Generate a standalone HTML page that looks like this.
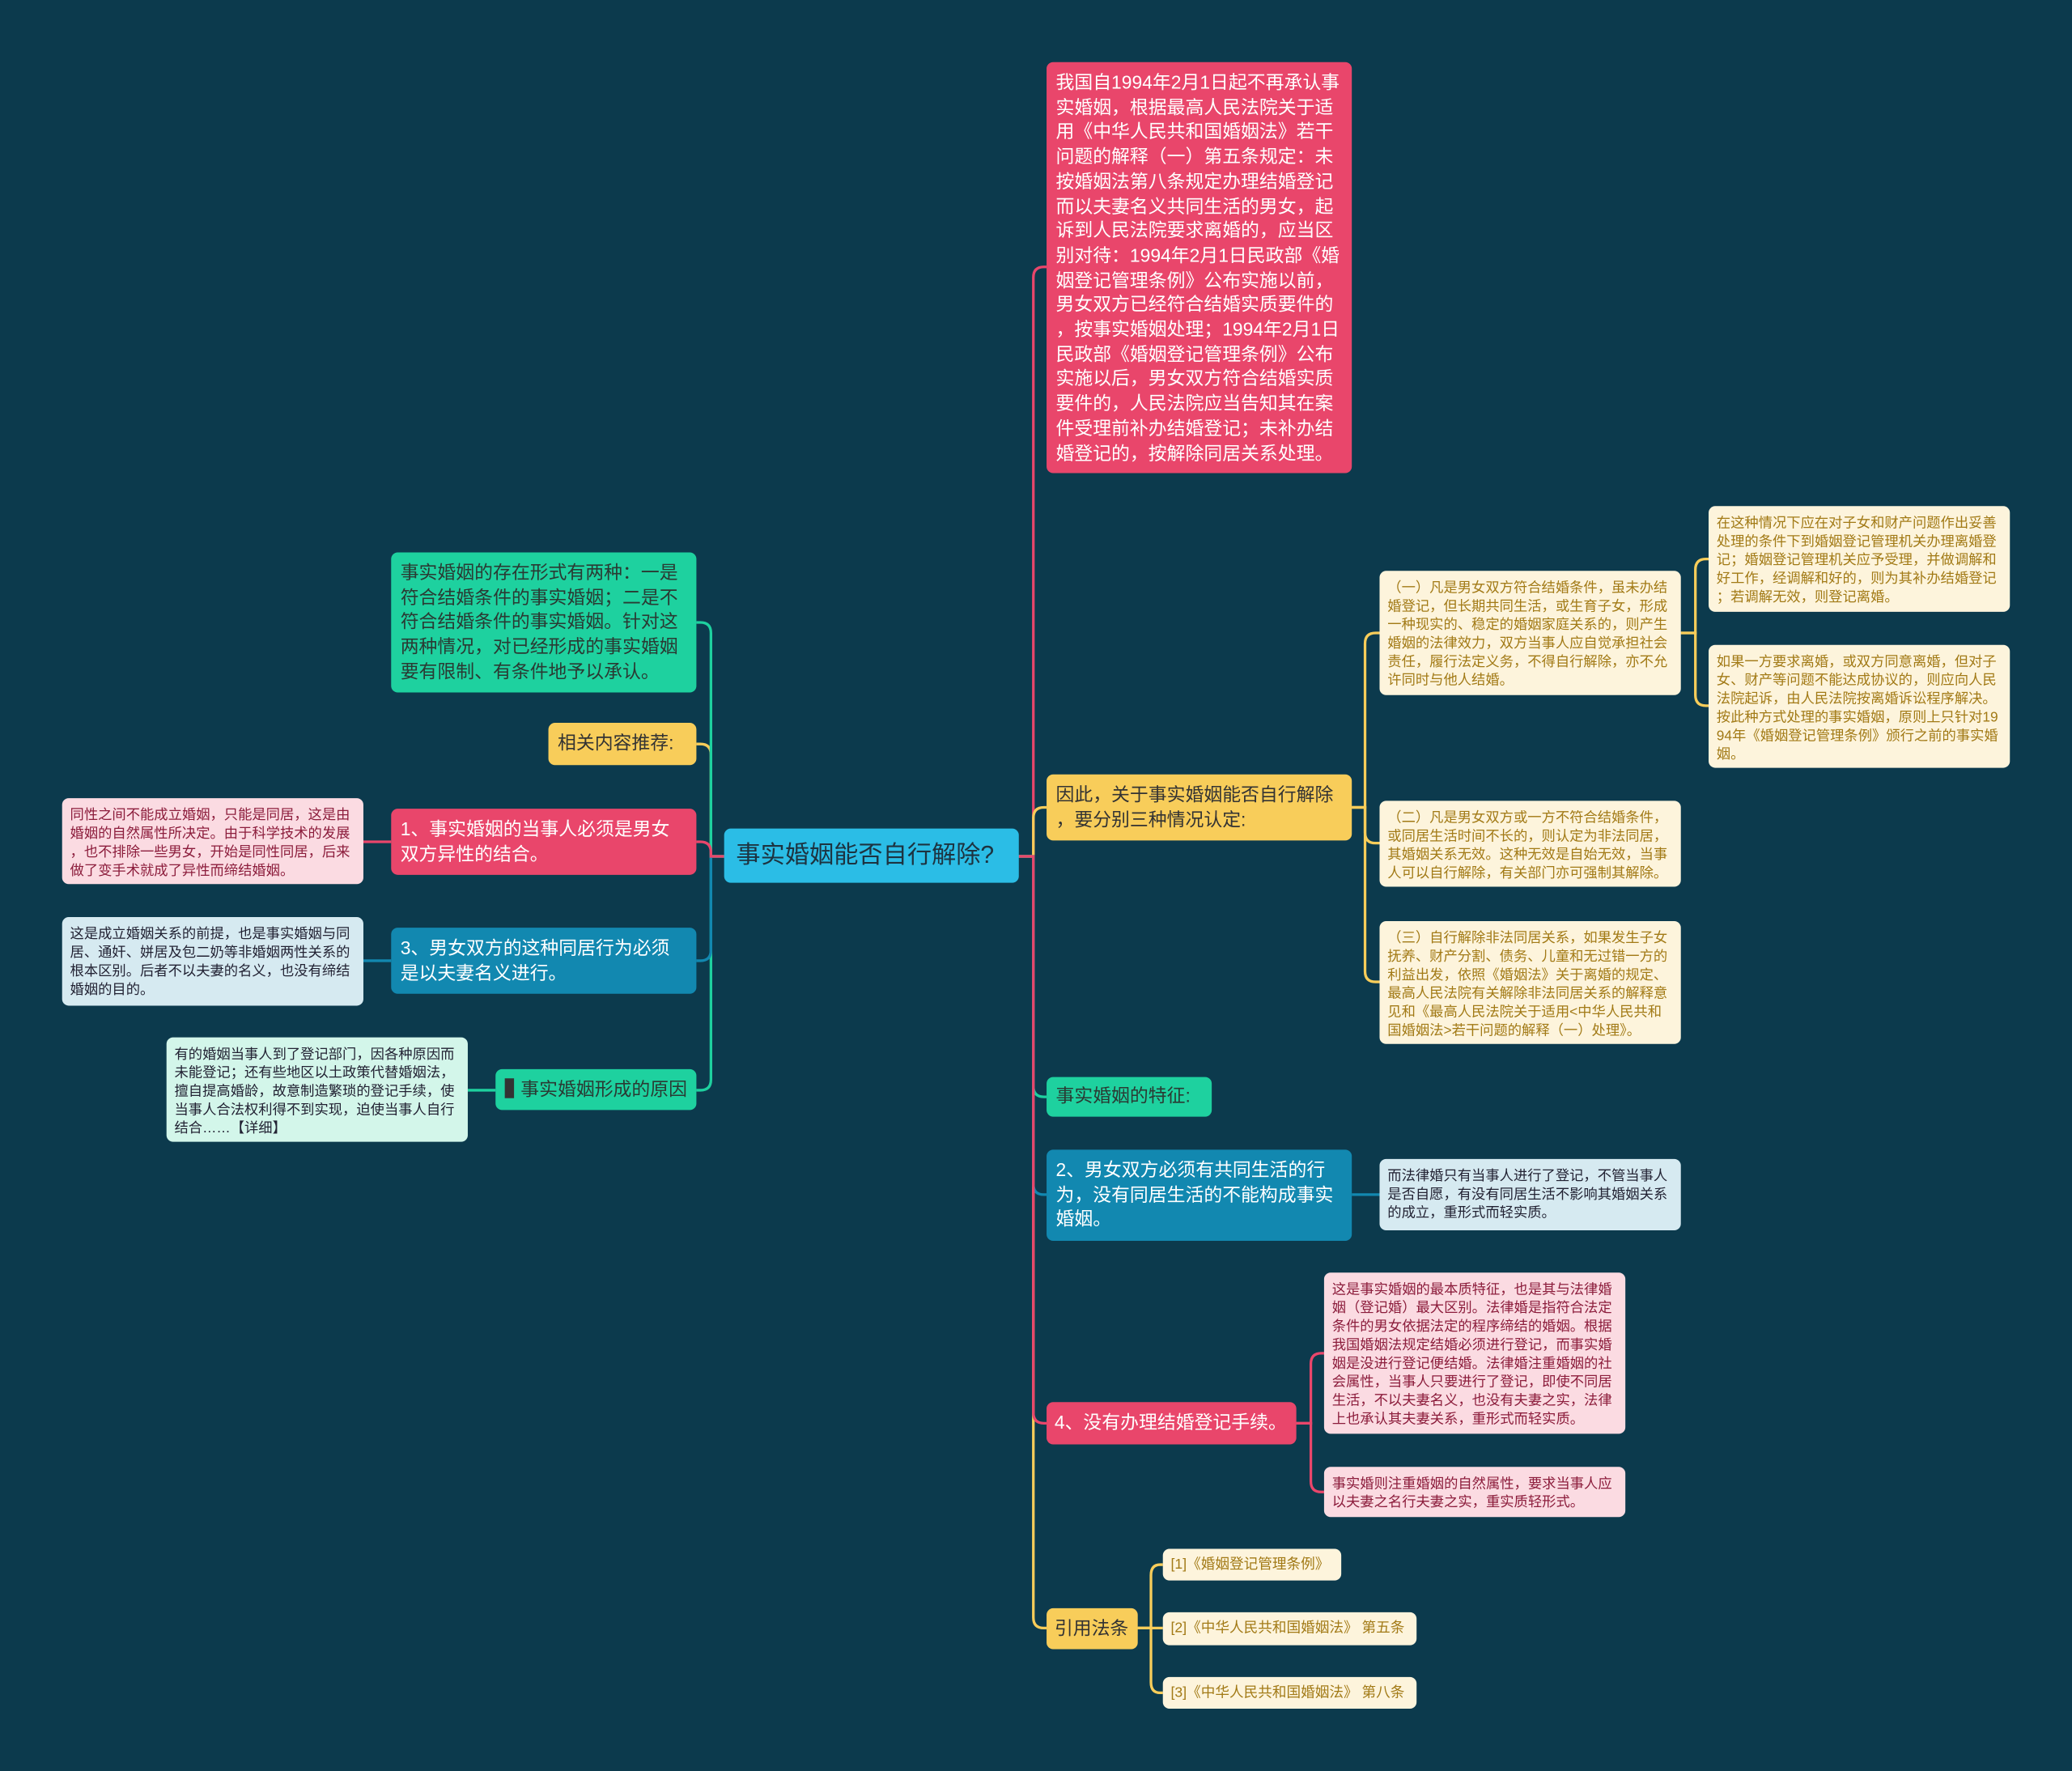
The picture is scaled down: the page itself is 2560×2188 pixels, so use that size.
<!DOCTYPE html>
<html><head><meta charset="utf-8"><style>
html,body{margin:0;padding:0;background:#0c3a4d;width:2560px;height:2187px;overflow:hidden}
#w{position:absolute;left:0;top:0;width:1568px;height:1340px;transform:scale(1.63265);transform-origin:0 0;font-family:"Liberation Sans","Noto Sans CJK SC",sans-serif}
.n{position:absolute;box-sizing:border-box;border-radius:5px;padding:6px 7px;font-size:14px;line-height:18.7px;word-break:break-all;line-break:anywhere}
.s{font-size:10.6px;line-height:14px;padding:6px 6px}
.red{background:#e9466b;color:#fff}
.yel{background:#f8cd5a;color:#333}
.grn{background:#1ed19f;color:#2a3a33}
.blu{background:#1288b0;color:#fff}
.cream{background:#fdf4dc;color:#a27a16}
.pink{background:#fbdbe2;color:#8c1d3c}
.lb{background:#d6eaf1;color:#223}
.mint{background:#d3f6ea;color:#223}
svg{position:absolute;left:0;top:0}
</style></head><body><div id="w">
<svg width="1568" height="1340" fill="none" stroke-width="2">
<g stroke="#e9466b"><path d="M771 648H782V210Q782 202 790 202H792"/></g>
<g stroke="#f8cd5a"><path d="M771 648H782V619Q782 611 790 611H792"/><path d="M771 648H782V1224Q782 1232 790 1232H792"/>
<path d="M1023 611H1033V487Q1033 479 1041 479H1044"/><path d="M1023 611H1033V630Q1033 638 1041 638H1044"/><path d="M1023 611H1033V735Q1033 743 1041 743H1044"/>
<path d="M1272 479H1283V431Q1283 423 1291 423H1293"/><path d="M1272 479H1283V526Q1283 534 1291 534H1293"/>
<path d="M861 1232H871V1192Q871 1184 878 1184H880"/><path d="M861 1232H880"/><path d="M861 1232H871V1273Q871 1281 878 1281H880"/>
<path d="M548 648H538V571Q538 563 530 563H527"/></g>
<g stroke="#1ed19f"><path d="M771 648H782V822Q782 830 790 830H792"/><path d="M548 648H538V479Q538 471 530 471H527"/><path d="M548 648H538V817Q538 825 530 825H527"/><path d="M375 825H354"/></g>
<g stroke="#1288b0"><path d="M771 648H782V896Q782 904 790 904H792"/><path d="M1023 904H1044"/><path d="M548 648H538V719Q538 727 530 727H527"/><path d="M296 727H275"/></g>
<g stroke="#e9466b"><path d="M771 648H782V1069Q782 1077 790 1077H792"/><path d="M981 1077H992V1032Q992 1024 1000 1024H1002"/><path d="M981 1077H992V1121Q992 1129 1000 1129H1002"/><path d="M548 648H538V645Q538 637 530 637H527"/><path d="M296 637H275"/></g>
</svg>
<div class="n" style="left:548px;top:627px;width:223px;height:41px;background:#2bbde6;color:#1d3340;font-size:18.5px;line-height:29px;padding:5px 9px">事实婚姻能否自行解除?</div>

<div class="n red" style="left:792px;top:47px;width:231px;height:311px">我国自1994年2月1日起不再承认事实婚姻，根据最高人民法院关于适用《中华人民共和国婚姻法》若干问题的解释（一）第五条规定：未按婚姻法第八条规定办理结婚登记而以夫妻名义共同生活的男女，起诉到人民法院要求离婚的，应当区别对待：1994年2月1日民政部《婚姻登记管理条例》公布实施以前，男女双方已经符合结婚实质要件的，按事实婚姻处理；1994年2月1日民政部《婚姻登记管理条例》公布实施以后，男女双方符合结婚实质要件的，人民法院应当告知其在案件受理前补办结婚登记；未补办结婚登记的，按解除同居关系处理。</div>
<div class="n yel" style="left:792px;top:586px;width:231px;height:50px">因此，关于事实婚姻能否自行解除，要分别三种情况认定:</div>
<div class="n s cream" style="left:1044px;top:432px;width:228px;height:94px">（一）凡是男女双方符合结婚条件，虽未办结婚登记，但长期共同生活，或生育子女，形成一种现实的、稳定的婚姻家庭关系的，则产生婚姻的法律效力，双方当事人应自觉承担社会责任，履行法定义务，不得自行解除，亦不允许同时与他人结婚。</div>
<div class="n s cream" style="left:1293px;top:383px;width:228px;height:80px">在这种情况下应在对子女和财产问题作出妥善处理的条件下到婚姻登记管理机关办理离婚登记；婚姻登记管理机关应予受理，并做调解和好工作，经调解和好的，则为其补办结婚登记；若调解无效，则登记离婚。</div>
<div class="n s cream" style="left:1293px;top:488px;width:228px;height:93px">如果一方要求离婚，或双方同意离婚，但对子女、财产等问题不能达成协议的，则应向人民法院起诉，由人民法院按离婚诉讼程序解决。按此种方式处理的事实婚姻，原则上只针对1994年《婚姻登记管理条例》颁行之前的事实婚姻。</div>
<div class="n s cream" style="left:1044px;top:606px;width:228px;height:65px">（二）凡是男女双方或一方不符合结婚条件，或同居生活时间不长的，则认定为非法同居，其婚姻关系无效。这种无效是自始无效，当事人可以自行解除，有关部门亦可强制其解除。</div>
<div class="n s cream" style="left:1044px;top:697px;width:228px;height:93px">（三）自行解除非法同居关系，如果发生子女抚养、财产分割、债务、儿童和无过错一方的利益出发，依照《婚姻法》关于离婚的规定、最高人民法院有关解除非法同居关系的解释意见和《最高人民法院关于适用&lt;中华人民共和国婚姻法&gt;若干问题的解释（一）处理》。</div>
<div class="n grn" style="left:792px;top:815px;width:125px;height:30px;padding:5px 7px">事实婚姻的特征:</div>
<div class="n blu" style="left:792px;top:870px;width:231px;height:69px">2、男女双方必须有共同生活的行为，没有同居生活的不能构成事实婚姻。</div>
<div class="n s lb" style="left:1044px;top:877px;width:228px;height:54px">而法律婚只有当事人进行了登记，不管当事人是否自愿，有没有同居生活不影响其婚姻关系的成立，重形式而轻实质。</div>
<div class="n red" style="left:792px;top:1061px;width:189px;height:32px;padding:6px 6px;white-space:nowrap">4、没有办理结婚登记手续。</div>
<div class="n s pink" style="left:1002px;top:963px;width:228px;height:122px">这是事实婚姻的最本质特征，也是其与法律婚姻（登记婚）最大区别。法律婚是指符合法定条件的男女依据法定的程序缔结的婚姻。根据我国婚姻法规定结婚必须进行登记，而事实婚姻是没进行登记便结婚。法律婚注重婚姻的社会属性，当事人只要进行了登记，即使不同居生活，不以夫妻名义，也没有夫妻之实，法律上也承认其夫妻关系，重形式而轻实质。</div>
<div class="n s pink" style="left:1002px;top:1110px;width:228px;height:38px">事实婚则注重婚姻的自然属性，要求当事人应以夫妻之名行夫妻之实，重实质轻形式。</div>
<div class="n yel" style="left:792px;top:1217px;width:69px;height:31px;padding:6px 6px">引用法条</div>
<div class="n s cream" style="left:880px;top:1172px;width:135px;height:24px;padding:5px 6px;font-size:10.8px">[1]《婚姻登记管理条例》</div>
<div class="n s cream" style="left:880px;top:1220px;width:192px;height:25px;padding:5px 6px;font-size:10.8px">[2]《中华人民共和国婚姻法》 第五条</div>
<div class="n s cream" style="left:880px;top:1269px;width:192px;height:24px;padding:5px 6px;font-size:10.8px">[3]《中华人民共和国婚姻法》 第八条</div>

<div class="n grn" style="left:296px;top:418px;width:231px;height:106px">事实婚姻的存在形式有两种：一是符合结婚条件的事实婚姻；二是不符合结婚条件的事实婚姻。针对这两种情况，对已经形成的事实婚姻要有限制、有条件地予以承认。</div>
<div class="n yel" style="left:415px;top:547px;width:112px;height:32px;padding:6px 7px">相关内容推荐:</div>
<div class="n red" style="left:296px;top:612px;width:231px;height:50px">1、事实婚姻的当事人必须是男女双方异性的结合。</div>
<div class="n s pink" style="left:47px;top:604px;width:228px;height:65px">同性之间不能成立婚姻，只能是同居，这是由婚姻的自然属性所决定。由于科学技术的发展，也不排除一些男女，开始是同性同居，后来做了变手术就成了异性而缔结婚姻。</div>
<div class="n blu" style="left:296px;top:702px;width:231px;height:50px">3、男女双方的这种同居行为必须是以夫妻名义进行。</div>
<div class="n s lb" style="left:47px;top:694px;width:228px;height:67px">这是成立婚姻关系的前提，也是事实婚姻与同居、通奸、姘居及包二奶等非婚姻两性关系的根本区别。后者不以夫妻的名义，也没有缔结婚姻的目的。</div>
<div class="n grn" style="left:375px;top:809px;width:152px;height:31px;padding:6px 7px"><span style="display:inline-block;width:7px;height:15px;background:#333;vertical-align:-2px;margin-right:5px"></span>事实婚姻形成的原因</div>
<div class="n s mint" style="left:126px;top:785px;width:228px;height:79px">有的婚姻当事人到了登记部门，因各种原因而未能登记；还有些地区以土政策代替婚姻法，擅自提高婚龄，故意制造繁琐的登记手续，使当事人合法权利得不到实现，迫使当事人自行结合……【详细】</div>
</div></body></html>
